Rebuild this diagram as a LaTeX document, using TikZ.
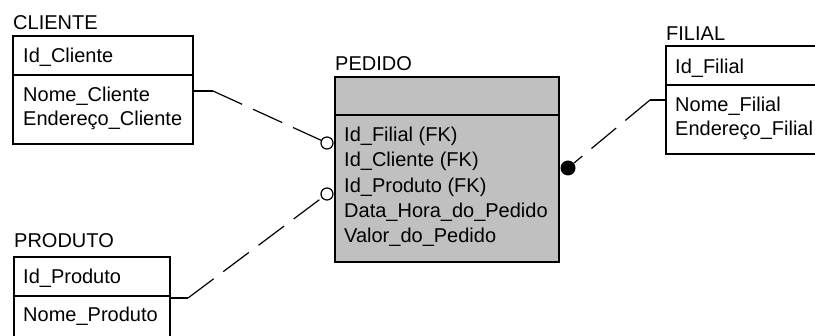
\documentclass[tikz,border=0pt]{standalone}
\usepackage{fontspec}
\setmainfont{Liberation Sans}
\usepackage{xcolor}
\usetikzlibrary{positioning}

\definecolor{pedfill}{RGB}{192,192,192}

\begin{document}
\begin{tikzpicture}[
		x=1pt, y=-1pt,
		font=\fontsize{20}{24}\selectfont,
		node distance=0pt,
		entity/.style={
			rectangle,
			draw,
			line width=1.4pt,
			outer sep=0pt,
			inner sep=0pt,
			minimum width=#1
		},
		title/.style={anchor=base west, inner sep=0pt},
		attr/.style={anchor=base west, inner sep=0pt},
		opt/.style={circle, draw, fill=white, line width=1.2pt, minimum size=12pt, inner sep=0pt},
		many/.style={circle, fill=black, minimum size=15pt, inner sep=0pt},
		link/.style={line width=1.2pt},
		dashlink/.style={link, dash pattern=on 32pt off 12pt}
		]
		\useasboundingbox (0,0) rectangle (815,336);
		\clip (0,0) rectangle (815,336);

		% CLIENTE
		\node[entity=180pt, minimum height=39pt, anchor=north west] (cliente) at (13,36) {};
		\node[entity=180pt, minimum height=69pt, below=of cliente] (cliente-a) {};
		\node[title] (cliente-t) at ([yshift=6pt]cliente.north west) {CLIENTE};
		\node[attr] (cliente-id) at (23,63) {Id\_Cliente};
		\node[attr] (cliente-nome) at (23,102) {Nome\_Cliente};
		\node[attr] (cliente-end) at (23,126) {Endereço\_Cliente};

		% PEDIDO
		\node[entity=224pt, minimum height=38pt, fill=pedfill, anchor=north west] (pedido) at (335,77) {};
		\node[entity=224pt, minimum height=147pt, fill=pedfill, below=of pedido] (pedido-a) {};
		\node[title] (pedido-t) at ([yshift=6pt]pedido.north west) {PEDIDO};
		\node[attr] (pedido-fil) at (344,142) {Id\_Filial (FK)};
		\node[attr] (pedido-cli) at (344,167) {Id\_Cliente (FK)};
		\node[attr] (pedido-pro) at (344,193) {Id\_Produto (FK)};
		\node[attr] (pedido-data) at (344,218) {Data\_Hora\_do\_Pedido};
		\node[attr] (pedido-valor) at (344,243) {Valor\_do\_Pedido};

		% FILIAL
		\node[entity=200pt, minimum height=39pt, anchor=north west] (filial) at (666,46) {};
		\node[entity=200pt, minimum height=69pt, below=of filial] (filial-a) {};
		\node[title] (filial-t) at ([yshift=5pt]filial.north west) {FILIAL};
		\node[attr] (filial-id) at (675,74) {Id\_Filial};
		\node[attr] (filial-nome) at (675,112) {Nome\_Filial};
		\node[attr] (filial-end) at (675,136) {Endereço\_Filial};

		% PRODUTO
		\node[entity=156pt, minimum height=39pt, anchor=north west] (produto) at (14,257) {};
		\node[entity=156pt, minimum height=70pt, below=of produto] (produto-a) {};
		\node[title] (produto-t) at ([yshift=9pt]produto.north west) {PRODUTO};
		\node[attr] (produto-id) at (23,284) {Id\_Produto};
		\node[attr] (produto-nome) at (23,322) {Nome\_Produto};

		% relationship ends
		\node[opt] (m-cliente) at (327,143) {};
		\node[opt] (m-produto) at (327,194) {};
		\node[many] (m-filial) at (568,168) {};

		\coordinate (cliente-s) at (213,91);
		\coordinate (produto-s) at (188,298);
		\coordinate (filial-s) at (650,100);

		\draw[link] (cliente-s -| cliente-a.east) -- (cliente-s);
		\draw[dashlink] (cliente-s) -- (m-cliente);
		\draw[link] (produto-s -| produto-a.east) -- (produto-s);
		\draw[dashlink] (produto-s) -- (m-produto);
		\draw[link] (filial-s -| filial-a.west) -- (filial-s);
		\draw[dashlink] (filial-s) -- (m-filial);
	\end{tikzpicture}
\end{document}
